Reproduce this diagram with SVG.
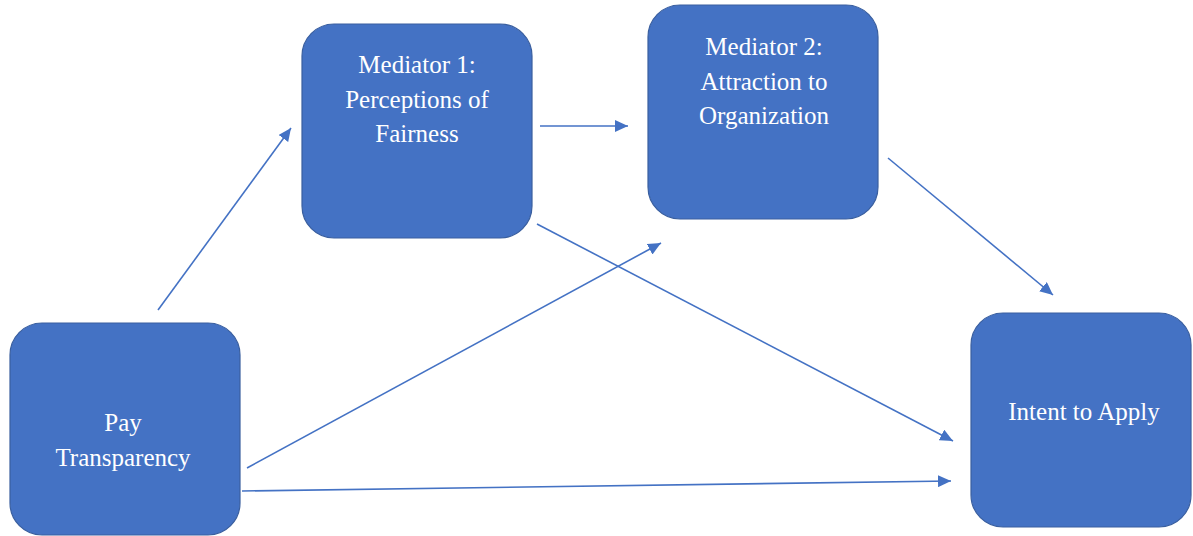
<svg xmlns="http://www.w3.org/2000/svg" width="1193" height="536" viewBox="0 0 1193 536">
<defs>
<style>
.box{fill:#4472C4;stroke:#3A5F9F;stroke-width:1.2}
.lbl{fill:#ffffff;font-family:"Liberation Serif","Times New Roman",serif;font-size:25px;text-anchor:middle}
.conn{stroke:#4472C4;stroke-width:1.6;fill:none;marker-end:url(#ah)}
</style>
<marker id="ah" markerUnits="userSpaceOnUse" markerWidth="14" markerHeight="12" refX="13" refY="6" orient="auto">
<path d="M0,0 L13,6 L0,12 z" fill="#4472C4"/>
</marker>
</defs>
<rect width="1193" height="536" fill="#ffffff"/>
<g id="connectors">
<line class="conn" x1="158" y1="310" x2="291" y2="128"/>
<line class="conn" x1="540" y1="126" x2="628" y2="126"/>
<line class="conn" x1="888" y1="158" x2="1053" y2="295"/>
<line class="conn" x1="537" y1="224" x2="953" y2="441"/>
<line class="conn" x1="247" y1="468" x2="661" y2="243"/>
<line class="conn" x1="242" y1="491" x2="951" y2="481"/>
</g>
<g id="mediator1">
<rect class="box" x="302" y="24" width="230" height="214" rx="32"/>
<text class="lbl" x="417" y="73">Mediator 1:</text>
<text class="lbl" x="417" y="108">Perceptions of</text>
<text class="lbl" x="417" y="142">Fairness</text>
</g>
<g id="mediator2">
<rect class="box" x="648" y="5" width="230" height="214" rx="32"/>
<text class="lbl" x="764" y="55">Mediator 2:</text>
<text class="lbl" x="764" y="90">Attraction to</text>
<text class="lbl" x="764" y="124">Organization</text>
</g>
<g id="intent">
<rect class="box" x="971" y="313" width="220" height="214" rx="32"/>
<text class="lbl" x="1084" y="420">Intent to Apply</text>
</g>
<g id="pay">
<rect class="box" x="10" y="323" width="230" height="212" rx="32"/>
<text class="lbl" x="123" y="431">Pay</text>
<text class="lbl" x="123" y="466">Transparency</text>
</g>
</svg>
